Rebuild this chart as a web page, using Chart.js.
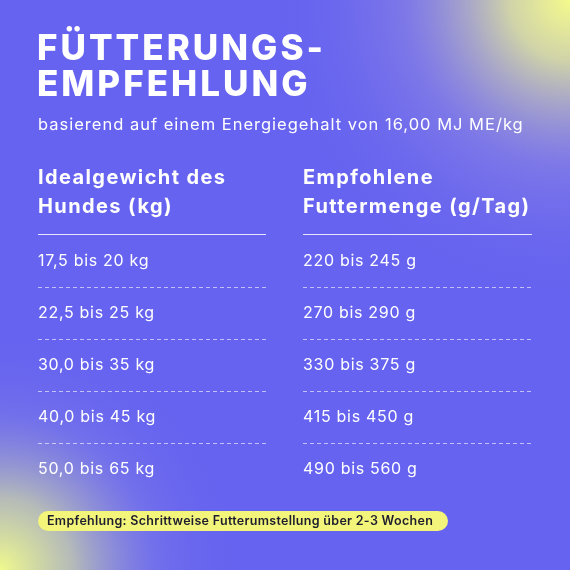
<!DOCTYPE html>
<html><head><meta charset="utf-8">
<script src="https://cdn.jsdelivr.net/npm/chart.js@4"></script>
<style>html,body{margin:0;padding:0;background:#6663f0}canvas{display:block}</style>
</head><body>
<canvas id="c" width="570" height="570"></canvas>
<script>
const title = ["FÜTTERUNGS-", "EMPFEHLUNG"];
const subtitle = "basierend auf einem Energiegehalt von 16,00 MJ ME/kg";
const headers = [["Idealgewicht des", "Hundes (kg)"], ["Empfohlene", "Futtermenge (g/Tag)"]];
const weights = ["17,5 bis 20 kg", "22,5 bis 25 kg", "30,0 bis 35 kg", "40,0 bis 45 kg", "50,0 bis 65 kg"];
const amounts = ["220 bis 245 g", "270 bis 290 g", "330 bis 375 g", "415 bis 450 g", "490 bis 560 g"];
const note = "Empfehlung: Schrittweise Futterumstellung über 2-3 Wochen";
const columns = ["weight", "amount"];
const F = "Inter, 'Open Sans', sans-serif";

const tablePlugin = {
  id: 'table',
  beforeDraw(chart) {
    const ctx = chart.ctx, W = chart.width, H = chart.height;
    ctx.save();
    ctx.fillStyle = '#6663f0'; ctx.fillRect(0, 0, W, H);
    let g = ctx.createRadialGradient(W, 0, 0, W, 0, 300);
    g.addColorStop(0, 'rgba(245,250,140,1)'); g.addColorStop(0.2, 'rgba(235,240,150,0.8)');
    g.addColorStop(0.55, 'rgba(170,160,215,0.35)'); g.addColorStop(1, 'rgba(102,99,240,0)');
    ctx.fillStyle = g; ctx.fillRect(0, 0, W, H);
    g = ctx.createRadialGradient(0, H, 0, 0, H, 240);
    g.addColorStop(0, 'rgba(240,250,140,1)'); g.addColorStop(0.3, 'rgba(215,225,160,0.7)');
    g.addColorStop(0.65, 'rgba(150,150,220,0.25)'); g.addColorStop(1, 'rgba(102,99,240,0)');
    ctx.fillStyle = g; ctx.fillRect(0, 0, W, H);
    ctx.restore();
  },
  afterDatasetsDraw(chart) {
    const ctx = chart.ctx, y = chart.scales.y;
    const cx = [38, 303];
    ctx.save();
    ctx.fillStyle = '#fff'; ctx.textBaseline = 'middle'; ctx.textAlign = 'left';
    ctx.font = '800 35px ' + F; ctx.letterSpacing = '3px';
    ctx.fillText(title[0], 37, 49); ctx.fillText(title[1], 37, 85);
    ctx.font = '400 16.5px ' + F; ctx.letterSpacing = '1px';
    ctx.fillText(subtitle, 38, 125);
    ctx.font = '700 20px ' + F; ctx.letterSpacing = '1.4px';
    headers.forEach((h, i) => { ctx.fillText(h[0], cx[i], 178); ctx.fillText(h[1], cx[i], 207); });
    ctx.strokeStyle = 'rgba(255,255,255,0.85)'; ctx.lineWidth = 1;
    ctx.beginPath(); ctx.moveTo(38, 234.5); ctx.lineTo(266, 234.5);
    ctx.moveTo(303, 234.5); ctx.lineTo(532, 234.5); ctx.stroke();
    ctx.font = '400 16px ' + F; ctx.letterSpacing = '0.7px';
    weights.forEach((w, i) => {
      const py = y.getPixelForValue(i);
      ctx.fillText(w, cx[0], py);
      ctx.fillText(amounts[i], cx[1], py);
      if (i < weights.length - 1) {
        const my = Math.round((py + y.getPixelForValue(i + 1)) / 2) + 0.5;
        ctx.setLineDash([4, 3]); ctx.strokeStyle = 'rgba(255,255,255,0.6)';
        ctx.beginPath(); ctx.moveTo(38, my); ctx.lineTo(266, my);
        ctx.moveTo(303, my); ctx.lineTo(532, my); ctx.stroke();
        ctx.setLineDash([]);
      }
    });
    ctx.fillStyle = '#f3f57a';
    ctx.beginPath(); ctx.roundRect(38, 511, 410, 20, 10); ctx.fill();
    ctx.fillStyle = '#1d1d2e'; ctx.font = '600 12.5px ' + F; ctx.letterSpacing = '0.3px';
    ctx.fillText(note, 47, 521.5);
    ctx.restore();
  }
};

new Chart(document.getElementById('c'), {
  type: 'line',
  data: {
    labels: columns,
    datasets: [{
      data: weights.map((w) => ({ x: columns[0], y: w })),
      showLine: false, pointRadius: 0
    }]
  },
  options: {
    responsive: false, animation: false, events: [],
    layout: { padding: { top: 235, bottom: 75, left: 38, right: 38 } },
    plugins: { legend: { display: false }, tooltip: { enabled: false } },
    scales: {
      x: { type: 'category', labels: columns, display: false },
      y: { type: 'category', labels: weights, display: false, offset: true }
    }
  },
  plugins: [tablePlugin]
});
</script>
</body></html>
